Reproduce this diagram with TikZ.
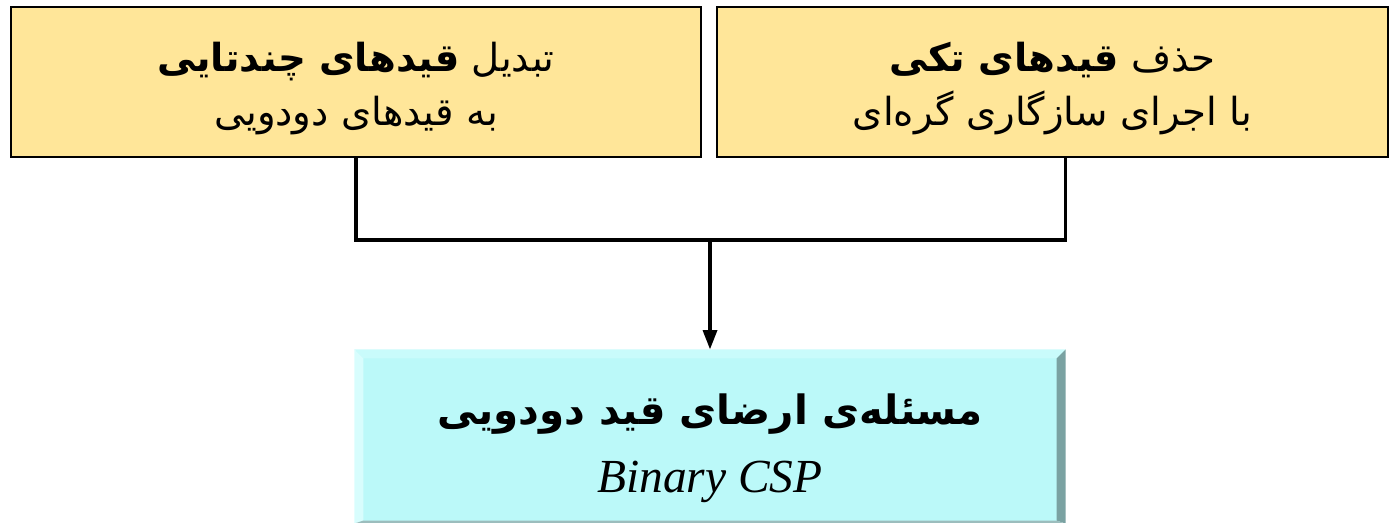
\documentclass[tikz,border=0pt]{standalone}
\usepackage{fontspec}
\setmainfont{Liberation Serif}
\newfontfamily\farsi[Script=Arabic]{DejaVu Sans}
\TeXXeTstate=1
\usetikzlibrary{arrows.meta,calc}
\definecolor{boxyellow}{HTML}{FFE699}
\definecolor{boxcyan}{HTML}{BBF9F9}
\definecolor{bevtop}{HTML}{C9FBFB}
\definecolor{bevleft}{HTML}{D8FDFD}
\definecolor{bevright}{HTML}{7AA2A2}
\definecolor{bevbottom}{HTML}{9CBDBD}
\begin{document}
\begin{tikzpicture}[line width=1.8pt,
  step box/.style={rectangle,draw,line width=1.2pt,fill=boxyellow,minimum width=13.8cm,minimum height=3cm,inner sep=0pt,align=center,font=\farsi\fontsize{22}{31}\selectfont},
  csp box/.style={rectangle,fill=boxcyan,minimum width=14.16cm,minimum height=3.42cm,inner sep=0pt,align=center}]
\useasboundingbox (0,0) rectangle (27.8,-10.44);
\node [step box](multi) at (7.12,-1.64) {\rule{0pt}{24pt}\beginR تبدیل {\bfseries قیدهای چندتایی}\endR\\ \beginR به قیدهای دودویی\endR};
\node [step box,minimum width=13.42cm](unary) at (21.05,-1.64) {\rule{0pt}{24pt}\beginR حذف {\bfseries قیدهای تکی}\endR\\ \beginR با اجرای سازگاری گره‌ای\endR};
\node [csp box](bin) at (14.2,-8.73) {{\farsi\bfseries\fontsize{23}{30}\selectfont\rule{0pt}{31pt}\beginR مسئله‌ی ارضای قید دودویی\endR}\\[14pt] {\itshape\fontsize{27}{30}\selectfont Binary CSP}};
% bevel edges
\fill [bevtop] (bin.north west) -- (bin.north east) -- ($(bin.north east)+(-0.18,-0.18)$) -- ($(bin.north west)+(0.18,-0.18)$) -- cycle;
\fill [bevleft] (bin.north west) -- ($(bin.north west)+(0.18,-0.18)$) -- ($(bin.south west)+(0.18,0.06)$) -- (bin.south west) -- cycle;
\fill [bevright] (bin.north east) -- ($(bin.north east)+(-0.18,-0.18)$) -- ($(bin.south east)+(-0.18,0.06)$) -- (bin.south east) -- cycle;
\fill [bevbottom] (bin.south west) -- ($(bin.south west)+(0.18,0.06)$) -- ($(bin.south east)+(-0.18,0.06)$) -- (bin.south east) -- cycle;
\coordinate (join) at (14.2,-4.8);
\draw (multi.south) |- (join) -| (bin.east |- unary.south);
\draw [-{Triangle[length=11pt,width=8pt]}] (join) -- (bin.north);
\end{tikzpicture}
\end{document}
